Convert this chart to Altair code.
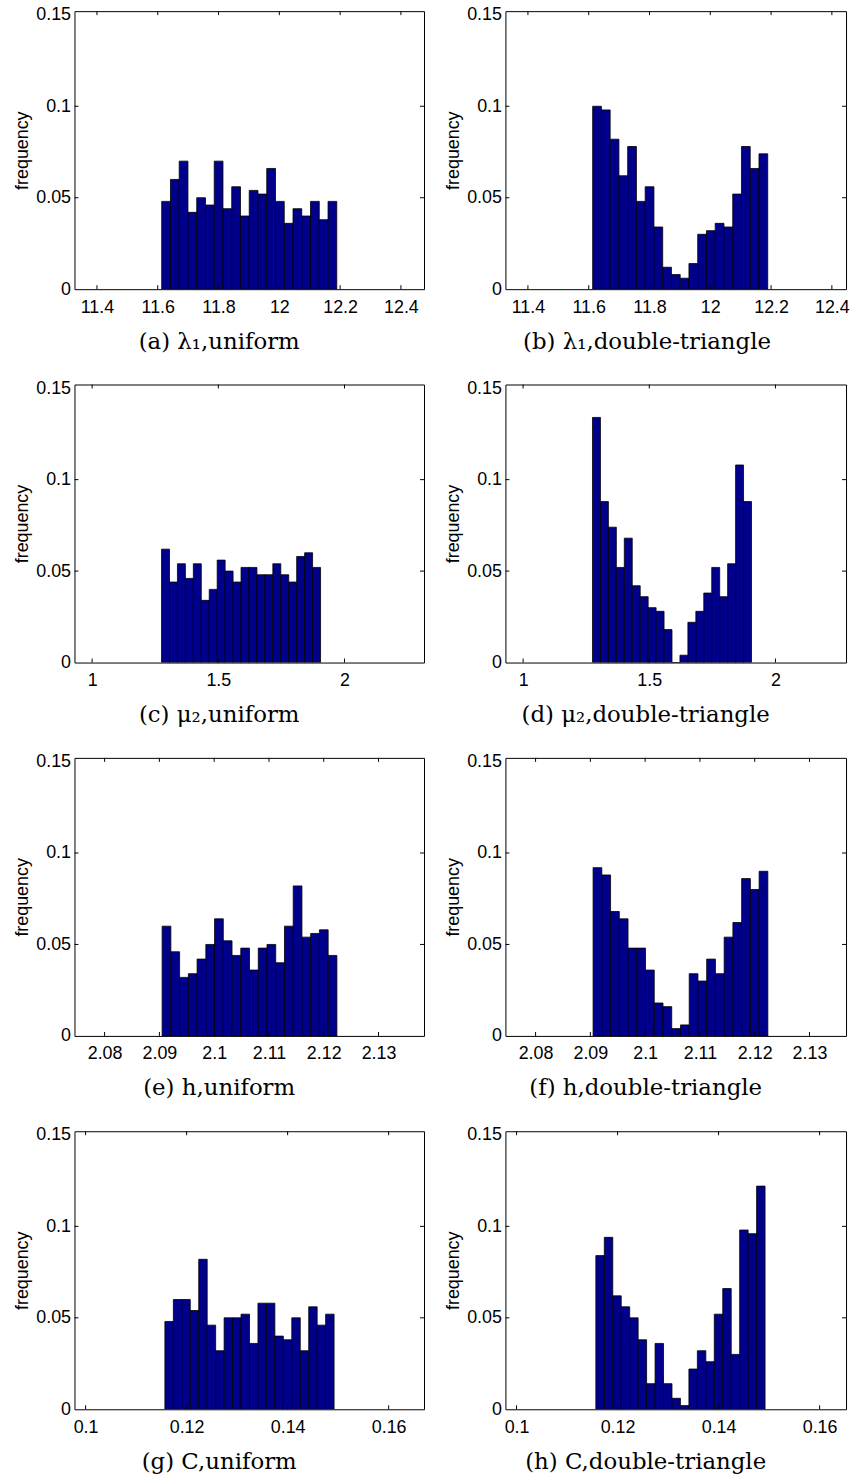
import altair as alt
import numpy as np
import pandas as pd

# ---- data (bin heights, 20 bins per panel) ----
freq_a = [0.048, 0.060, 0.070, 0.042, 0.050, 0.046, 0.070, 0.044, 0.056, 0.040,
          0.054, 0.052, 0.066, 0.048, 0.036, 0.044, 0.040, 0.048, 0.038, 0.048]
freq_b = [0.100, 0.098, 0.082, 0.062, 0.078, 0.048, 0.056, 0.034, 0.012, 0.008,
          0.006, 0.014, 0.030, 0.032, 0.036, 0.034, 0.052, 0.078, 0.066, 0.074]
freq_c = [0.062, 0.044, 0.054, 0.046, 0.054, 0.034, 0.040, 0.056, 0.050, 0.044,
          0.052, 0.052, 0.048, 0.048, 0.054, 0.048, 0.044, 0.058, 0.060, 0.052]
freq_d = [0.134, 0.088, 0.074, 0.052, 0.068, 0.042, 0.036, 0.030, 0.028, 0.018,
          0.000, 0.004, 0.022, 0.028, 0.038, 0.052, 0.036, 0.054, 0.108, 0.088]
freq_e = [0.060, 0.046, 0.032, 0.034, 0.042, 0.050, 0.064, 0.052, 0.044, 0.048,
          0.036, 0.048, 0.050, 0.040, 0.060, 0.082, 0.054, 0.056, 0.058, 0.044]
freq_f = [0.092, 0.088, 0.068, 0.064, 0.048, 0.048, 0.036, 0.018, 0.016, 0.004,
          0.006, 0.034, 0.030, 0.042, 0.034, 0.054, 0.062, 0.086, 0.080, 0.090]
freq_g = [0.048, 0.060, 0.060, 0.054, 0.082, 0.046, 0.032, 0.050, 0.050, 0.052,
          0.036, 0.058, 0.058, 0.040, 0.038, 0.050, 0.032, 0.056, 0.046, 0.052]
freq_h = [0.084, 0.094, 0.062, 0.056, 0.050, 0.038, 0.014, 0.036, 0.014, 0.006,
          0.002, 0.022, 0.032, 0.026, 0.052, 0.066, 0.030, 0.098, 0.096, 0.122]

# histogram ranges (first bin start, last bin end)
range_lambda = (11.613, 12.189)
range_mu = (1.275, 1.905)
range_h = (2.0905, 2.1224)
range_C = (0.1157, 0.1492)

# axis limits
xlim_lambda = (11.326, 12.476)
xlim_mu = (0.93, 2.315)
xlim_h = (2.0745, 2.1383)
xlim_C = (0.0978, 0.1670)

xticks_lambda = [11.4, 11.6, 11.8, 12.0, 12.2, 12.4]
xticks_mu = [1.0, 1.5, 2.0]
xticks_h = [2.08, 2.09, 2.10, 2.11, 2.12, 2.13]
xticks_C = [0.10, 0.12, 0.14, 0.16]
yticks = [0.0, 0.05, 0.10, 0.15]
ylim = (0.0, 0.152)

captions = [
    "(a)  λ₁,uniform", "(b)  λ₁,double-triangle",
    "(c)  μ₂,uniform", "(d)  μ₂,double-triangle",
    "(e)  h,uniform", "(f)  h,double-triangle",
    "(g)  C,uniform", "(h)  C,double-triangle",
]

H = 280
W_LEFT = 352
W_RIGHT = 343
TICK = 4
BAR_COLOR = "#00008B"


def panel(freqs, brange, xlim, xticks, caption, width):
    n = len(freqs)
    edges = np.linspace(brange[0], brange[1], n + 1)
    df = pd.DataFrame({"x0": edges[:-1], "x1": edges[1:], "f": freqs})
    lo, hi = xlim
    hi = lo + (hi - lo) * width / W_LEFT
    xs = alt.Scale(domain=[lo, hi], nice=False, zero=False)
    ys = alt.Scale(domain=list(ylim), nice=False, zero=False)
    xax = alt.Axis(values=xticks, format="~g", title=None)
    yax = alt.Axis(values=yticks, format="~g", title="frequency")

    bars = alt.Chart(df).mark_bar(
        fill=BAR_COLOR, stroke="black", strokeWidth=0.8, clip=True
    ).encode(
        x=alt.X("x0:Q", scale=xs, axis=xax),
        x2="x1:Q",
        y=alt.Y("f:Q", scale=ys, axis=yax),
        y2=alt.datum(0),
    )
    xt = pd.DataFrame({"t": xticks})
    yt = pd.DataFrame({"t": yticks[1:-1]})
    xb = alt.Chart(xt).mark_rule(color="black", strokeWidth=1).encode(
        x=alt.X("t:Q", scale=xs, axis=xax),
        y=alt.value(H), y2=alt.value(H - TICK))
    xtp = alt.Chart(xt).mark_rule(color="black", strokeWidth=1).encode(
        x=alt.X("t:Q", scale=xs, axis=xax),
        y=alt.value(0), y2=alt.value(TICK))
    yl = alt.Chart(yt).mark_rule(color="black", strokeWidth=1).encode(
        y=alt.Y("t:Q", scale=ys, axis=yax),
        x=alt.value(0), x2=alt.value(TICK))
    yr = alt.Chart(yt).mark_rule(color="black", strokeWidth=1).encode(
        y=alt.Y("t:Q", scale=ys, axis=yax),
        x=alt.value(width), x2=alt.value(width - TICK))
    return alt.layer(bars, xb, xtp, yl, yr).properties(
        width=width, height=H,
        title=alt.TitleParams(caption, orient="bottom", anchor="middle",
                              frame="bounds",
                              font="DejaVu Serif", fontSize=23,
                              fontWeight="normal", color="black", offset=15),
    )


specs = [
    (freq_a, range_lambda, xlim_lambda, xticks_lambda),
    (freq_b, range_lambda, xlim_lambda, xticks_lambda),
    (freq_c, range_mu, xlim_mu, xticks_mu),
    (freq_d, range_mu, xlim_mu, xticks_mu),
    (freq_e, range_h, xlim_h, xticks_h),
    (freq_f, range_h, xlim_h, xticks_h),
    (freq_g, range_C, xlim_C, xticks_C),
    (freq_h, range_C, xlim_C, xticks_C),
]

rows = []
for r in range(4):
    left = panel(*specs[2 * r], captions[2 * r], W_LEFT)
    right = panel(*specs[2 * r + 1], captions[2 * r + 1], W_RIGHT)
    rows.append(alt.hconcat(left, right, spacing=19))

chart = alt.vconcat(*rows, spacing=24).properties(
    padding={"left": 13, "top": 0, "right": 0, "bottom": 0}
).configure_view(
    stroke="black", strokeWidth=1
).configure_axis(
    domain=False, ticks=False, grid=False,
    labelFont="Liberation Sans", labelFontSize=18, labelColor="black",
    labelFlush=False, labelOverlap=False,
    titleFont="Liberation Sans", titleFontSize=18, titleFontWeight="normal",
    titleColor="black",
).configure_axisX(labelPadding=9).configure_axisY(labelPadding=4, titlePadding=4)

chart.save("out.html", embed_options={"renderer": "svg", "actions": False})
